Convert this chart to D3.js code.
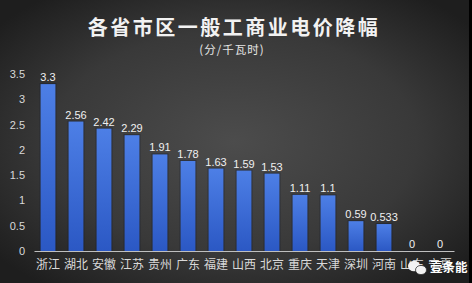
<!DOCTYPE html>
<html>
<head>
<meta charset="utf-8">
<script src="https://cdn.jsdelivr.net/npm/d3@7"></script>
<style>
  body { margin: 0; background: #000; }
  svg { display: block; font-family: "Noto Sans CJK SC", "Noto Sans", sans-serif; }
</style>
</head>
<body>
<div class="chart"></div>
<script>
var provinces = ["浙江", "湖北", "安徽", "江苏", "贵州", "广东", "福建", "山西", "北京", "重庆", "天津", "深圳", "河南", "山东", "宁夏"];
var cuts = [3.3, 2.56, 2.42, 2.29, 1.91, 1.78, 1.63, 1.59, 1.53, 1.11, 1.1, 0.59, 0.533, 0, 0];
var yTicks = [0, 0.5, 1, 1.5, 2, 2.5, 3, 3.5];

var svgWidth = 472;
var svgHeight = 283;

var svg = d3.select(".chart")
    .append("svg")
    .attr("width", svgWidth)
    .attr("height", svgHeight);

var defs = svg.append("defs");

var bg = defs.append("radialGradient")
    .attr("id", "bg")
    .attr("cx", "50%").attr("cy", "50%").attr("r", "65%");
bg.append("stop").attr("offset", "0%").attr("stop-color", "#4c4c4c");
bg.append("stop").attr("offset", "60%").attr("stop-color", "#393939");
bg.append("stop").attr("offset", "100%").attr("stop-color", "#1e1e1e");

var barFill = defs.append("linearGradient")
    .attr("id", "barFill")
    .attr("x1", 0).attr("y1", 0).attr("x2", 0).attr("y2", 1);
barFill.append("stop").attr("offset", "0%").attr("stop-color", "#4d7fe6");
barFill.append("stop").attr("offset", "100%").attr("stop-color", "#2b58c4");

svg.append("rect")
    .attr("width", 469)
    .attr("height", svgHeight)
    .attr("fill", "url(#bg)");

// title
svg.append("text")
    .attr("x", 234)
    .attr("y", 35)
    .attr("text-anchor", "middle")
    .attr("font-size", "20px")
    .attr("font-weight", "bold")
    .attr("letter-spacing", "2.5px")
    .attr("fill", "#f2f2f2")
    .text("各省市区一般工商业电价降幅");

svg.append("text")
    .attr("x", 232)
    .attr("y", 54)
    .attr("text-anchor", "middle")
    .attr("font-size", "11.5px")
    .attr("letter-spacing", "1px")
    .attr("fill", "#e6e6e6")
    .text("(分/千瓦时)");

var x = d3.scaleBand()
    .domain(provinces)
    .range([34, 454])
    .paddingInner(0.47)
    .paddingOuter(0.235);

var y = d3.scaleLinear()
    .domain([0, 3.5])
    .range([251, 74]);

// y axis labels (no line)
var leftAxis = d3.axisLeft(y)
    .tickValues(yTicks)
    .tickSize(0)
    .tickPadding(0)
    .tickFormat(d3.format("~g"));

var yAxis = svg.append("g")
    .attr("transform", "translate(25, 0)")
    .call(leftAxis);
yAxis.select(".domain").remove();
yAxis.selectAll("text")
    .attr("fill", "#d9d9d9")
    .attr("font-size", "11px")
    .attr("font-family", "Liberation Sans, Arial, sans-serif");

// bars
var bars = svg.append("g");
bars.selectAll("rect.shadow")
    .data(provinces)
    .enter()
    .append("rect")
    .attr("class", "shadow")
    .attr("x", (d, i) => x(d) - 1)
    .attr("y", (d, i) => y(cuts[i]) - 1)
    .attr("width", x.bandwidth() + 2)
    .attr("height", (d, i) => y(0) - y(cuts[i]) + 1)
    .attr("fill", "#1a1f2e")
    .attr("opacity", 0.5);

bars.selectAll("rect.bar")
    .data(provinces)
    .enter()
    .append("rect")
    .attr("class", "bar")
    .attr("x", d => x(d))
    .attr("y", (d, i) => y(cuts[i]))
    .attr("width", x.bandwidth())
    .attr("height", (d, i) => y(0) - y(cuts[i]))
    .attr("fill", "url(#barFill)");

// value labels
svg.append("g").selectAll("text")
    .data(provinces)
    .enter()
    .append("text")
    .attr("x", d => x(d) + x.bandwidth() / 2)
    .attr("y", (d, i) => y(cuts[i]) - 3)
    .attr("text-anchor", "middle")
    .attr("font-size", "11px")
    .attr("font-family", "Liberation Sans, Arial, sans-serif")
    .attr("fill", "#f0f0f0")
    .text((d, i) => cuts[i]);

// x axis
var bottomAxis = d3.axisBottom(x)
    .tickSize(0)
    .tickPadding(9);

var xAxis = svg.append("g")
    .attr("transform", `translate(0, ${y(0)})`)
    .call(bottomAxis);
xAxis.select(".domain")
    .attr("stroke", "#bfbfbf")
    .attr("stroke-width", 1.2);
xAxis.selectAll("text")
    .attr("fill", "#d9d9d9")
    .attr("font-size", "12px")
    .attr("font-family", "Noto Sans CJK SC, sans-serif");

// watermark
var wm = svg.append("g").attr("transform", "translate(408, 266)");
wm.append("ellipse").attr("cx", 6).attr("cy", 0).attr("rx", 6).attr("ry", 5.2).attr("fill", "#f2f2f2");
wm.append("ellipse").attr("cx", 13).attr("cy", 4).attr("rx", 5.5).attr("ry", 4.6).attr("fill", "#f2f2f2").attr("stroke", "#333").attr("stroke-width", 0.8);
wm.append("text")
    .attr("x", 22)
    .attr("y", 6)
    .attr("font-size", "12.5px")
    .attr("font-weight", "bold")
    .attr("fill", "#ffffff")
    .text("壹条能");
</script>
</body>
</html>
